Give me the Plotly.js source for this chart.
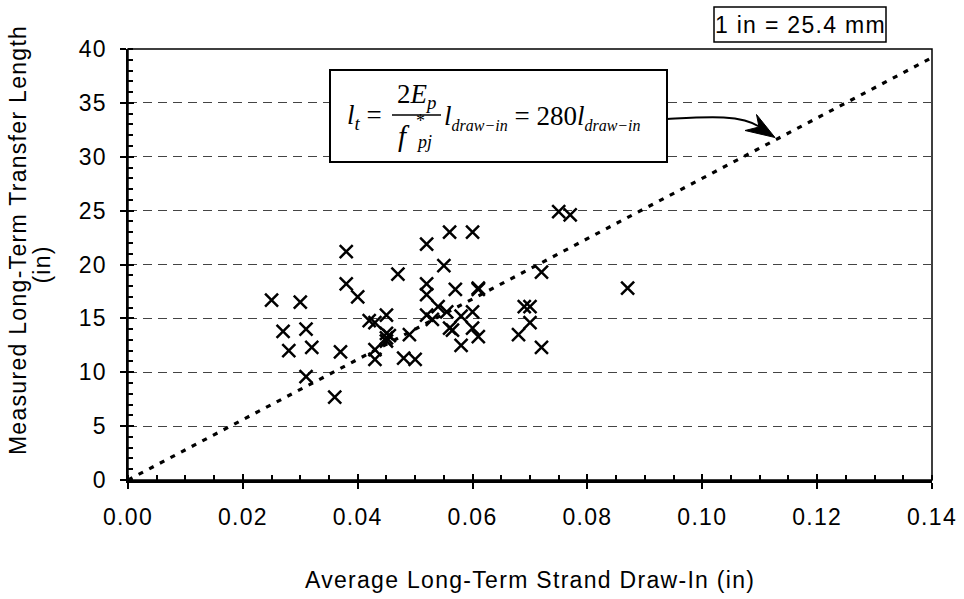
<!DOCTYPE html>
<html>
<head>
<meta charset="utf-8">
<script src="https://cdn.plot.ly/plotly-3.0.1.min.js"></script>
<style>
html,body{margin:0;padding:0;background:#fff;}
#chart{width:964px;height:599px;}
#chart .xtick text, #chart .ytick text,
#chart .annotation[data-index="0"] text,
#chart .annotation[data-index="1"] text,
#chart .annotation[data-index="2"] text,
#chart .annotation[data-index="3"] text { letter-spacing: 1.3px; }
</style>
</head>
<body>
<div id="chart"></div>
<script>
// Measured data: average long-term strand draw-in (in) vs measured long-term transfer length (in)
const drawIn = [
  0.025, 0.027, 0.028, 0.030, 0.031, 0.031, 0.032, 0.036, 0.037, 0.038,
  0.038, 0.040, 0.042, 0.043, 0.043, 0.043, 0.045, 0.045, 0.045, 0.045,
  0.0455, 0.047, 0.048, 0.049, 0.050,
  0.052, 0.052, 0.052, 0.052, 0.053, 0.054, 0.055, 0.0555, 0.056, 0.056,
  0.0565, 0.057, 0.058, 0.058, 0.060, 0.060, 0.060, 0.061, 0.061, 0.061,
  0.068, 0.069, 0.070, 0.070, 0.072, 0.072, 0.075, 0.077, 0.087
];
const transferLength = [
  16.7, 13.8, 12.0, 16.5, 14.0, 9.6, 12.3, 7.7, 11.9, 21.2,
  18.2, 17.0, 14.8, 14.6, 12.1, 11.2, 15.3, 13.6, 13.2, 12.9,
  13.4, 19.1, 11.3, 13.5, 11.2,
  21.9, 18.2, 17.2, 15.3, 14.9, 16.1, 19.9, 15.6, 23.0, 14.1,
  13.9, 17.7, 15.2, 12.5, 23.0, 15.6, 14.1, 17.8, 17.7, 13.3,
  13.5, 16.1, 16.1, 14.6, 19.3, 12.3, 24.9, 24.6, 17.8
];
// Theoretical line l_t = 280 * l_draw-in
const lineX = [0, 0.14];
const lineY = [0, 39.2];

const xTitle = 'Average Long-Term Strand Draw-In (in)';
const yTitleLine1 = 'Measured Long-Term Transfer Length';
const yTitleLine2 = '(in)';
const unitNote = '1 in = 25.4 mm';

// pixel -> paper helpers for annotation placement
const L = 128, R = 932, T = 49, B = 480;
const pX = px => (px - L) / (R - L);
const pY = py => (B - py) / (B - T);

const traces = [
  {x: lineX, y: lineY, mode: 'lines', type: 'scatter',
   line: {color: '#000', width: 3.2, dash: '5px,7px'}, hoverinfo: 'skip'},
  {x: drawIn, y: transferLength, mode: 'markers', type: 'scatter',
   marker: {symbol: 'x-thin', size: 13, color: '#000', line: {color: '#000', width: 2.5}}},
  {x: [], y: [], xaxis: 'x2', yaxis: 'y', mode: 'markers', hoverinfo: 'skip'},
  {x: [], y: [], xaxis: 'x', yaxis: 'y2', mode: 'markers', hoverinfo: 'skip'}
];

const serif = 'Liberation Serif, Times New Roman, serif';
const eqSize = 27;
const subSpan = s => '<span style="font-size:16px">' + s + '</span>';
const axisFont = 23;

const layout = {
  width: 964, height: 599,
  margin: {l: L, r: 964 - R, t: T, b: 599 - B},
  paper_bgcolor: '#fff', plot_bgcolor: '#fff',
  showlegend: false,
  font: {family: 'Liberation Sans, Arial, sans-serif', size: axisFont, color: '#000'},
  xaxis: {
    range: [0, 0.14], tick0: 0, dtick: 0.02, tickformat: '.2f',
    ticks: 'outside', ticklen: 6, tickwidth: 2, tickcolor: '#000',
    showline: true, linewidth: 2.5, linecolor: '#000',
    showgrid: false, zeroline: false, ticklabelstandoff: 9,
    minor: {tick0: 0, dtick: 0.005, ticks: 'inside', ticklen: 5, tickwidth: 2, tickcolor: '#000', showgrid: false}
  },
  yaxis: {
    range: [0, 40], tick0: 0, dtick: 5,
    ticks: 'outside', ticklen: 6, tickwidth: 2, tickcolor: '#000',
    showline: true, linewidth: 2.5, linecolor: '#000',
    showgrid: true, gridcolor: '#444', gridwidth: 1, griddash: '9px,6px',
    zeroline: false, ticklabelstandoff: 8,
    minor: {tick0: 0, dtick: 1, ticks: 'inside', ticklen: 5, tickwidth: 2, tickcolor: '#000', showgrid: false}
  },
  xaxis2: {
    overlaying: 'x', anchor: 'y', side: 'bottom', range: [0, 0.14], tick0: 0, dtick: 0.02,
    ticks: 'inside', ticklen: 6, tickwidth: 2, tickcolor: '#000',
    showticklabels: false, showgrid: false, zeroline: false, showline: false
  },
  yaxis2: {
    overlaying: 'y', anchor: 'x', side: 'left', range: [0, 40], tick0: 0, dtick: 5,
    ticks: 'inside', ticklen: 6, tickwidth: 2, tickcolor: '#000',
    showticklabels: false, showgrid: false, zeroline: false, showline: false
  },
  shapes: [
    // plot frame
    {type: 'rect', xref: 'paper', yref: 'paper', x0: 0, x1: 1, y0: 0, y1: 1,
     line: {color: '#000', width: 1.5}, layer: 'between'},
    // unit note box
    {type: 'rect', xref: 'paper', yref: 'paper', x0: pX(714), x1: pX(886), y0: pY(42), y1: pY(7),
     line: {color: '#000', width: 1.5}, fillcolor: '#fff', layer: 'above'},
    // equation box
    {type: 'rect', xref: 'paper', yref: 'paper', x0: pX(330), x1: pX(667), y0: pY(162), y1: pY(70),
     line: {color: '#000', width: 2}, fillcolor: '#fff', layer: 'above'},
    // fraction bar
    {type: 'line', xref: 'paper', yref: 'paper', x0: pX(392), x1: pX(441), y0: pY(115), y1: pY(115),
     line: {color: '#000', width: 1.5}, layer: 'above'},
    // curved leader
    {type: 'path', xref: 'paper', yref: 'paper', layer: 'above',
     path: 'M ' + pX(667) + ',' + pY(119) + ' C ' + pX(705) + ',' + pY(117) + ' ' + pX(740) + ',' + pY(114) + ' ' + pX(760) + ',' + pY(127),
     line: {color: '#000', width: 2}},
    // arrow head
    {type: 'path', xref: 'paper', yref: 'paper', layer: 'above',
     path: 'M ' + pX(775) + ',' + pY(137.5) + ' L ' + pX(756.5) + ',' + pY(114.5) + ' L ' + pX(759) + ',' + pY(127) + ' L ' + pX(745) + ',' + pY(130.5) + ' Z',
     fillcolor: '#000', line: {color: '#000', width: 1}}
  ],
  annotations: [
    {text: yTitleLine1, xref: 'paper', yref: 'paper', x: pX(18), y: pY(240), xanchor: 'center', yanchor: 'middle',
     textangle: -90, showarrow: false, font: {size: axisFont}},
    {text: yTitleLine2, xref: 'paper', yref: 'paper', x: pX(42), y: pY(265), xanchor: 'center', yanchor: 'middle',
     textangle: -90, showarrow: false, font: {size: axisFont}},
    {text: xTitle, xref: 'paper', yref: 'paper', x: 0.5, y: pY(580), xanchor: 'center', yanchor: 'middle',
     showarrow: false, font: {size: axisFont}},
    {text: unitNote, xref: 'paper', yref: 'paper', x: pX(800), y: pY(25), xanchor: 'center', yanchor: 'middle',
     showarrow: false, font: {size: axisFont}},
    // equation pieces
    {text: '<i>l</i><sub><i>t</i></sub> =', xref: 'paper', yref: 'paper', x: pX(345), y: pY(117), xanchor: 'left', yanchor: 'middle',
     showarrow: false, font: {family: serif, size: eqSize}},
    {text: '2<i>E</i><sub><i>p</i></sub>', xref: 'paper', yref: 'paper', x: pX(416), y: pY(96), xanchor: 'center', yanchor: 'middle',
     showarrow: false, font: {family: serif, size: eqSize}},
    {text: '<i>f</i>', xref: 'paper', yref: 'paper', x: pX(404), y: pY(136), xanchor: 'center', yanchor: 'middle',
     showarrow: false, font: {family: serif, size: eqSize + 2}},
    {text: '*', xref: 'paper', yref: 'paper', x: pX(420), y: pY(121), xanchor: 'center', yanchor: 'middle',
     showarrow: false, font: {family: serif, size: 18}},
    {text: '<i>pj</i>', xref: 'paper', yref: 'paper', x: pX(424), y: pY(142), xanchor: 'center', yanchor: 'middle',
     showarrow: false, font: {family: serif, size: 18}},
    {text: '<i>l</i><sub><i>' + subSpan('draw\u2212in') + '</i></sub> = 280<i>l</i><sub><i>' + subSpan('draw\u2212in') + '</i></sub>',
     xref: 'paper', yref: 'paper', x: pX(442), y: pY(117), xanchor: 'left', yanchor: 'middle',
     showarrow: false, font: {family: serif, size: eqSize}}
  ]
};

Plotly.newPlot('chart', traces, layout, {displayModeBar: false, staticPlot: true});
</script>
</body>
</html>
